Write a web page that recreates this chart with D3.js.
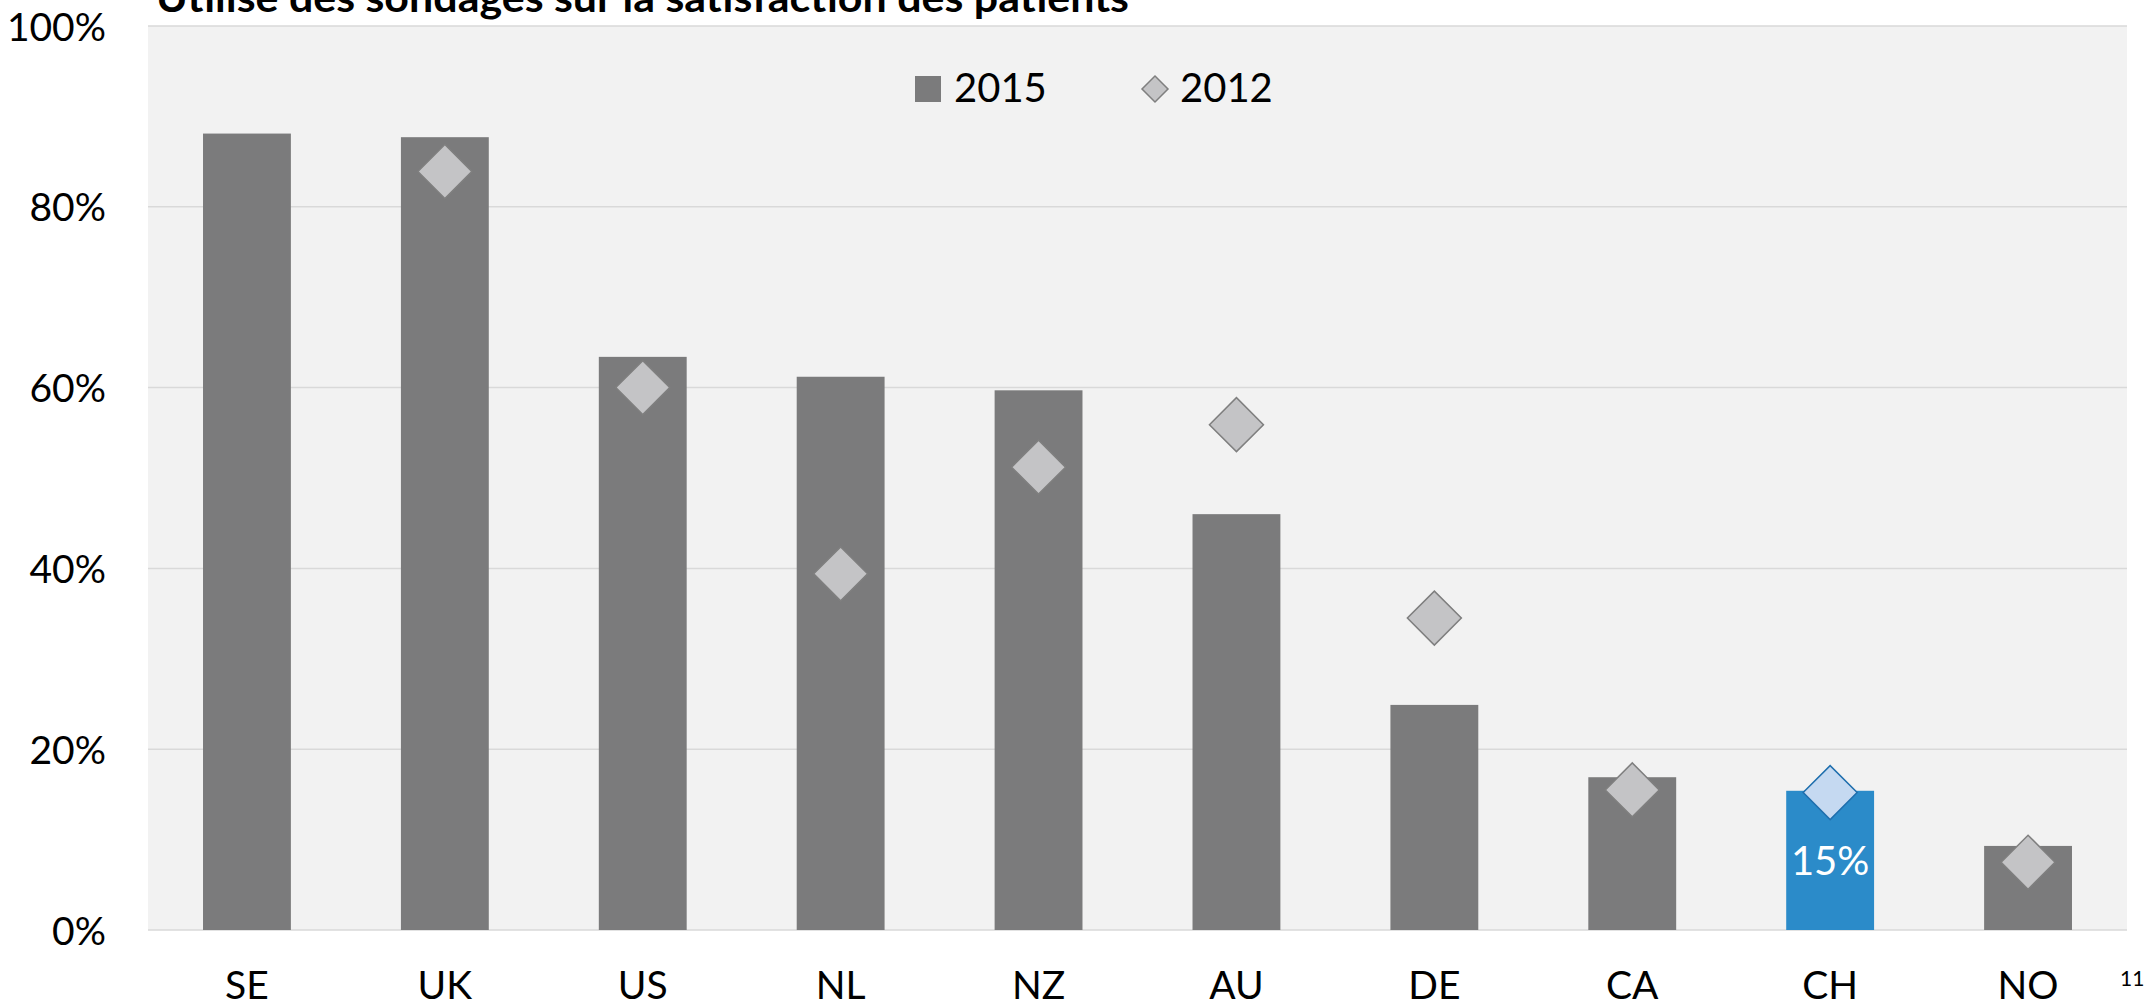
<!DOCTYPE html>
<html>
<head>
<meta charset="utf-8">
<script src="https://cdn.jsdelivr.net/npm/d3@7"></script>
<style>
  body { margin: 0; background: #fff; }
  svg { display: block; font-family: Lato, "Open Sans", sans-serif; }
</style>
</head>
<body>
<div id="chart"></div>
<script>
// data
var countries = ['SE', 'UK', 'US', 'NL', 'NZ', 'AU', 'DE', 'CA', 'CH', 'NO']
var values2015 = [88.1, 87.7, 63.4, 61.2, 59.7, 46.0, 24.9, 16.9, 15.4, 9.3]
var values2012 = [null, 83.9, 60.0, 39.4, 51.2, 55.9, 34.5, 15.5, 15.2, 7.5]
var yTicks = [0, 20, 40, 60, 80, 100]
var highlight = 'CH'
var titleText = 'Utilise des sondages sur la satisfaction des patients'

var W = 2154, H = 1008
var margin = { left: 148, right: 27, top: 26, bottom: 78 }
var width = W - margin.left - margin.right
var height = H - margin.top - margin.bottom

var data = countries.map((c, i) => ({ country: c, v15: values2015[i], v12: values2012[i] }))

var svg = d3.select('#chart').append('svg')
  .attr('width', W)
  .attr('height', H)

var g = svg.append('g')
  .attr('transform', `translate(${margin.left},${margin.top})`)

var x = d3.scaleBand().domain(countries).range([0, width]).paddingInner(0.556).paddingOuter(0.278)
var y = d3.scaleLinear().domain([0, 100]).range([height, 0])

// plot background
g.append('rect')
  .attr('width', width)
  .attr('height', height)
  .attr('fill', '#f2f2f2')

// gridlines
g.append('g')
  .selectAll('line')
  .data(yTicks)
  .enter().append('line')
  .attr('x1', 0)
  .attr('x2', width)
  .attr('y1', d => y(d))
  .attr('y2', d => y(d))
  .attr('stroke', '#d9d9d9')
  .attr('stroke-width', 1.5)

// y axis labels
var yAxis = d3.axisLeft(y).tickValues(yTicks).tickFormat(d => d + '%').tickSize(0).tickPadding(42)
g.append('g')
  .call(yAxis)
  .call(a => a.select('.domain').remove())
  .selectAll('text')
  .attr('font-family', 'Lato, sans-serif')
  .attr('font-size', 39)
  .attr('fill', '#000')
  .attr('dy', '0.36em')

// x axis labels
var xAxis = d3.axisBottom(x).tickSize(0).tickPadding(41)
g.append('g')
  .attr('transform', `translate(0,${height})`)
  .call(xAxis)
  .call(a => a.select('.domain').remove())
  .selectAll('text')
  .attr('font-family', 'Lato, sans-serif')
  .attr('font-size', 39)
  .attr('fill', '#000')
  .attr('dy', '0.72em')

// bars 2015
g.append('g')
  .selectAll('rect')
  .data(data)
  .enter().append('rect')
  .attr('x', d => x(d.country))
  .attr('width', x.bandwidth())
  .attr('y', d => y(d.v15))
  .attr('height', d => y(0) - y(d.v15))
  .attr('fill', d => d.country === highlight ? '#2b8bc9' : '#7b7b7c')

// value label on highlighted bar
var hl = data.find(d => d.country === highlight)
g.append('text')
  .text(Math.round(hl.v15) + '%')
  .attr('x', x(hl.country) + x.bandwidth() / 2)
  .attr('y', y(hl.v15 / 2))
  .attr('text-anchor', 'middle')
  .attr('dominant-baseline', 'central')
  .attr('font-size', 40)
  .attr('fill', '#fff')

// diamonds 2012
var diamond = d3.symbol().type(d3.symbolSquare).size(1458)
g.append('g')
  .selectAll('path')
  .data(data.filter(d => d.v12 !== null))
  .enter().append('path')
  .attr('d', diamond)
  .attr('transform', d => `translate(${x(d.country) + x.bandwidth() / 2},${y(d.v12)}) rotate(45)`)
  .attr('fill', d => d.country === highlight ? '#c5d9f1' : '#c4c4c6')
  .attr('stroke', d => d.country === highlight ? '#1f6fae' : '#7f7f7f')
  .attr('stroke-width', 1.5)

// legend
var legend = svg.append('g')
legend.append('rect')
  .attr('x', 915)
  .attr('y', 76)
  .attr('width', 26)
  .attr('height', 26)
  .attr('fill', '#7b7b7c')
legend.append('text')
  .text('2015')
  .attr('x', 954)
  .attr('y', 102)
  .attr('font-size', 40)
  .attr('fill', '#000')
legend.append('path')
  .attr('d', d3.symbol().type(d3.symbolSquare).size(338))
  .attr('transform', 'translate(1155,89) rotate(45)')
  .attr('fill', '#c4c4c6')
  .attr('stroke', '#7f7f7f')
  .attr('stroke-width', 1.5)
legend.append('text')
  .text('2012')
  .attr('x', 1180)
  .attr('y', 102)
  .attr('font-size', 40)
  .attr('fill', '#000')

// title, cut off at top like the slide
svg.append('text')
  .text(titleText)
  .attr('x', 156)
  .attr('y', 12)
  .attr('font-size', 40)
  .attr('font-weight', 'bold')
  .attr('textLength', 973)
  .attr('lengthAdjust', 'spacingAndGlyphs')
  .attr('fill', '#000')

// page number
svg.append('text')
  .text('11')
  .attr('x', 2120)
  .attr('y', 986)
  .attr('font-size', 21)
  .attr('fill', '#000')
</script>
</body>
</html>
